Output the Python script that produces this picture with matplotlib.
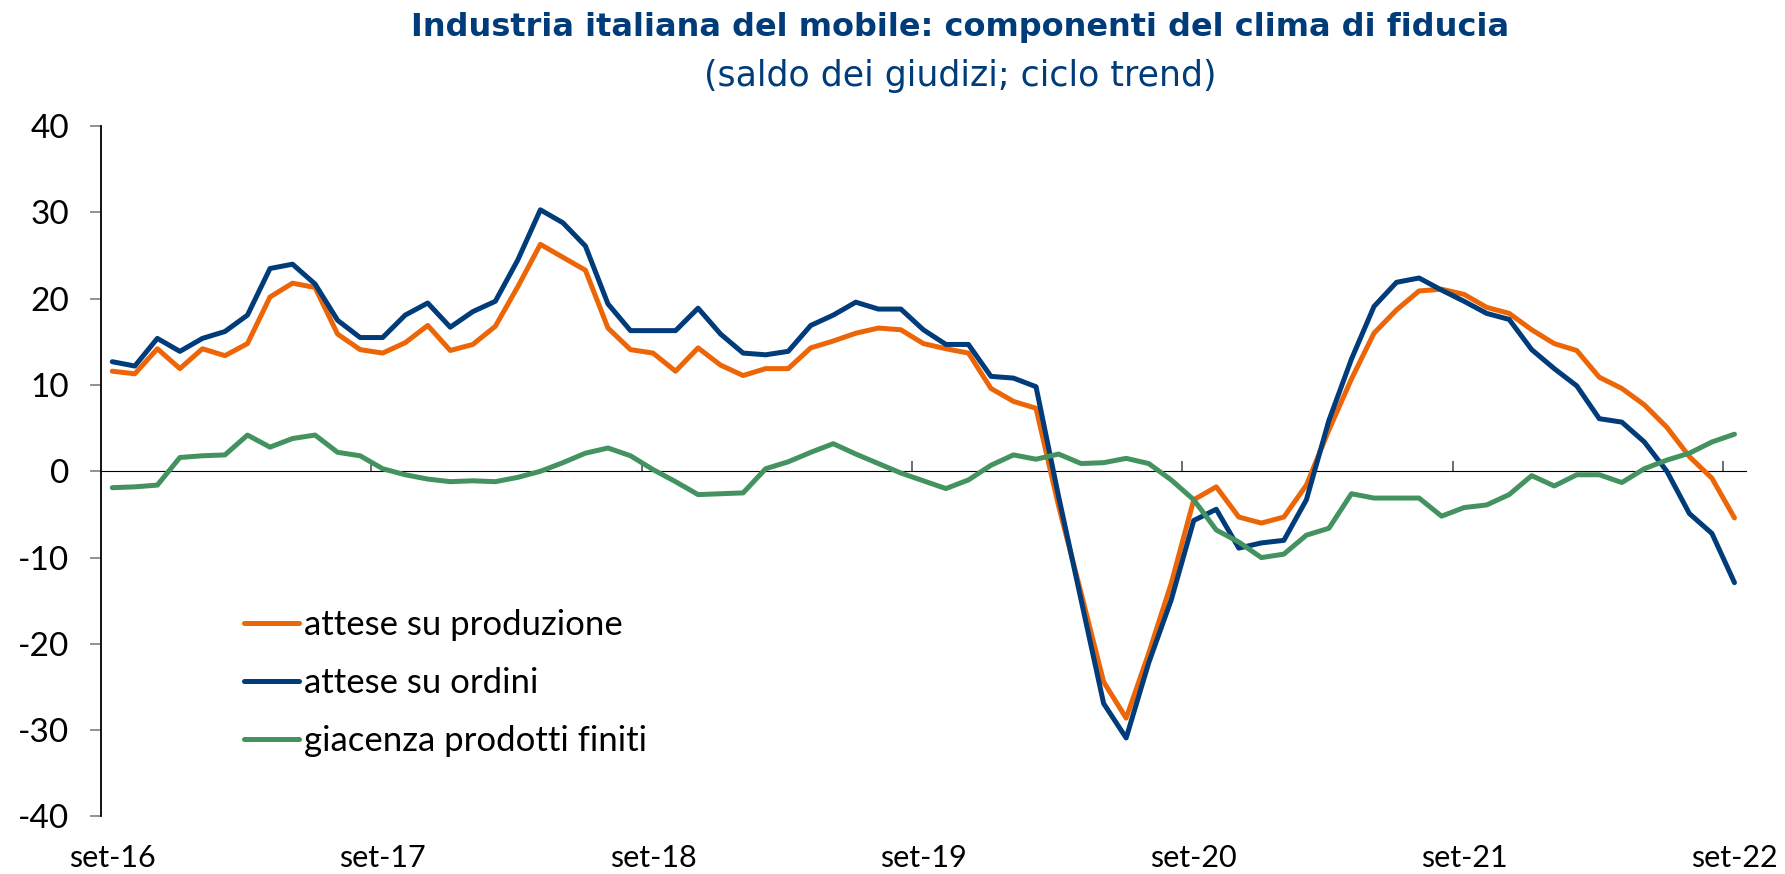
import matplotlib
matplotlib.use("Agg")
import matplotlib.pyplot as plt
import numpy as np

plt.rcParams['font.family'] = ['Lato', 'DejaVu Sans']
plt.rcParams['axes.unicode_minus'] = False

# monthly, set-16 .. set-22
years = ["16", "17", "18", "19", "20", "21", "22"]

produzione = [
    11.6, 11.3, 14.2, 11.9, 14.2, 13.4, 14.8, 20.2, 21.8, 21.3, 15.9, 14.1,
    13.7, 14.9, 16.9, 14.0, 14.7, 16.8, 21.4, 26.3, 24.8, 23.3, 16.6, 14.1,
    13.7, 11.6, 14.3, 12.3, 11.1, 11.9, 11.9, 14.3, 15.1, 16.0, 16.6, 16.4,
    14.8, 14.2, 13.7, 9.6, 8.1, 7.3, -4.0, -14.1, -24.4, -28.6, -21.1, -13.0,
    -3.3, -1.8, -5.3, -6.0, -5.3, -1.6, 4.8, 10.7, 16.0, 18.7, 20.9, 21.1,
    20.5, 19.0, 18.3, 16.4, 14.8, 14.0, 10.9, 9.6, 7.7, 5.1, 1.7, -0.8, -5.4,
]
ordini = [
    12.7, 12.2, 15.4, 13.9, 15.4, 16.2, 18.1, 23.5, 24.0, 21.7, 17.5, 15.5,
    15.5, 18.1, 19.5, 16.7, 18.5, 19.7, 24.5, 30.3, 28.8, 26.1, 19.4, 16.3,
    16.3, 16.3, 18.9, 15.9, 13.7, 13.5, 13.9, 16.9, 18.1, 19.6, 18.8, 18.8,
    16.4, 14.7, 14.7, 11.0, 10.8, 9.8, -2.9, -14.9, -26.9, -30.9, -22.2, -14.9,
    -5.7, -4.4, -8.9, -8.3, -8.0, -3.3, 5.9, 13.0, 19.1, 21.9, 22.4, 21.0,
    19.7, 18.3, 17.6, 14.1, 11.9, 9.9, 6.1, 5.7, 3.4, 0.0, -4.9, -7.2, -12.9,
]
giacenza = [
    -1.9, -1.8, -1.6, 1.6, 1.8, 1.9, 4.2, 2.8, 3.8, 4.2, 2.2, 1.8,
    0.3, -0.4, -0.9, -1.2, -1.1, -1.2, -0.7, 0.0, 1.0, 2.1, 2.7, 1.8,
    0.2, -1.2, -2.7, -2.6, -2.5, 0.3, 1.1, 2.2, 3.2, 2.0, 0.9, -0.2,
    -1.1, -2.0, -1.0, 0.7, 1.9, 1.4, 2.0, 0.9, 1.0, 1.5, 0.9, -1.0,
    -3.3, -6.8, -8.2, -10.0, -9.6, -7.4, -6.6, -2.6, -3.1, -3.1, -3.1, -5.2,
    -4.2, -3.9, -2.7, -0.5, -1.7, -0.4, -0.4, -1.3, 0.3, 1.3, 2.1, 3.4, 4.3,
]

c_orange = "#EC6608"
c_blue = "#003B7A"
c_green = "#43925F"
c_title = "#003B7A"

x = np.arange(len(produzione))

fig = plt.figure(figsize=(17.85, 8.74), dpi=100)
ax = fig.add_axes([0.0566, 0.0658, 0.9214, 0.7899])

ax.plot(x, produzione, color=c_orange, lw=3.6, label="attese su produzione", solid_capstyle="round")
ax.plot(x, ordini, color=c_blue, lw=3.6, label="attese su ordini", solid_capstyle="round")
ax.plot(x, giacenza, color=c_green, lw=3.6, label="giacenza prodotti finiti", solid_capstyle="round")

ax.set_xlim(-0.5, len(x) - 0.5)
ax.set_ylim(-40, 40)
ax.set_yticks(np.arange(-40, 41, 10))
ax.tick_params(axis="y", direction="out", length=8, width=1.2, color="#7f7f7f",
               pad=15, labelsize=24)

# year labels under the September of each year
ax.set_xticks(x[::12], ["set-" + y for y in years])
ax.tick_params(axis="x", length=0, pad=20, labelsize=22)

for s in ["top", "right", "bottom"]:
    ax.spines[s].set_visible(False)
ax.spines["left"].set_linewidth(1.3)

# zero line with tick marks between years
sec = ax.secondary_xaxis(0.5)
sec.set_xticks(np.arange(11.5, len(x), 12))
sec.tick_params(axis="x", direction="out", length=7.5, width=1.2, color="#555555",
                labelbottom=False, labeltop=False)
sec.spines["bottom"].set_linewidth(1.2)

ax.legend(loc="upper left", bbox_to_anchor=(0.087, 0.301), frameon=False,
          fontsize=25, handlelength=1.58, handletextpad=0.15, labelspacing=0.75,
          borderaxespad=0, borderpad=0)

fig.text(0.538, 0.969, "Industria italiana del mobile: componenti del clima di fiducia",
         ha="center", va="center", fontsize=23, fontweight="bold", color=c_title,
         family="DejaVu Sans")
fig.text(0.538, 0.913, "(saldo dei giudizi; ciclo trend)",
         ha="center", va="center", fontsize=25, color=c_title, family="DejaVu Sans")

fig.savefig("out.png", dpi=100)
